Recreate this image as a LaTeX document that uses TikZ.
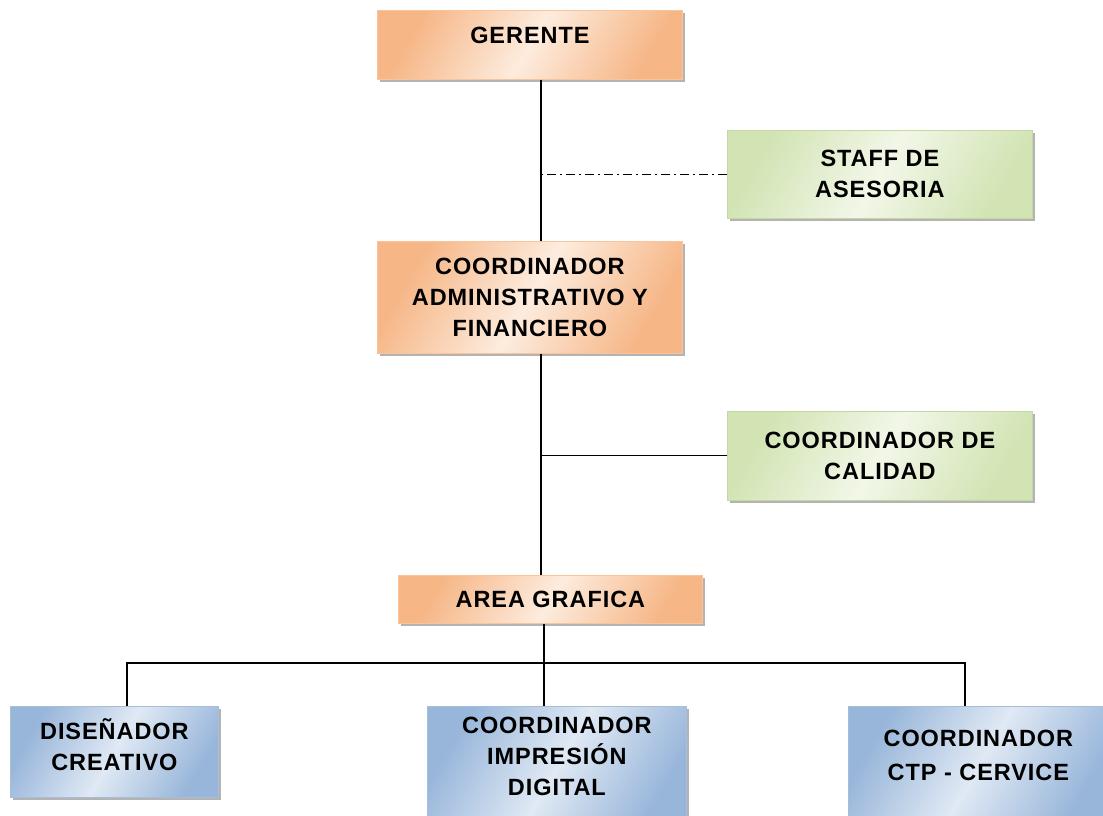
\documentclass[tikz,border=0pt]{standalone}
\usepackage{fontspec}
\setmainfont{Liberation Sans}[LetterSpace=4]
\usetikzlibrary{shadows}
\definecolor{orD}{RGB}{246,182,134}
\definecolor{orL}{RGB}{253,236,222}
\definecolor{orB}{RGB}{248,196,156}
\definecolor{grD}{RGB}{210,228,180}
\definecolor{grL}{RGB}{242,247,232}
\definecolor{grB}{RGB}{196,216,160}
\definecolor{blD}{RGB}{152,182,218}
\definecolor{blL}{RGB}{224,233,244}
\definecolor{blB}{RGB}{166,190,220}
\definecolor{shd}{RGB}{160,160,160}
\tikzset{
  box/.style={rectangle, anchor=north west, align=center, inner sep=0pt,
    font=\fontsize{23.5}{31}\selectfont\bfseries, text=black, line width=0.8pt,
    drop shadow={shadow xshift=3pt, shadow yshift=-3pt, fill=shd, opacity=0.8}},
  obox/.style={box, draw=orB, left color=orD, right color=orD, middle color=orL, shading angle=60},
  gbox/.style={box, draw=grB, left color=grD, right color=grD, middle color=grL, shading angle=60},
  bbox/.style={box, draw=blB, left color=blD, right color=blD, middle color=blL, shading angle=60},
  link/.style={draw=black, line width=1.1pt},
  staffline/.style={draw=black, line width=1.1pt, dash pattern=on 9pt off 4pt on 2pt off 4pt}
}
\begin{document}
\begin{tikzpicture}[x=1pt, y=-1pt]
\useasboundingbox (0,0) rectangle (1103,816);
\clip (0,0) rectangle (1103,816);
\fill[white] (0,0) rectangle (1103,816);
\coordinate (sp) at (541,0);
\coordinate (sq) at (544,0);
\coordinate (hb) at (0,663);
\coordinate (xl) at (127,0);
\coordinate (xr) at (965,0);

\node[obox, minimum width=305pt, minimum height=69pt, text depth=20pt] (ger) at (377,10) {GERENTE};
\node[gbox, minimum width=305pt, minimum height=88pt] (staff) at (727,130) {STAFF DE\\ASESORIA};
\node[obox, minimum width=305pt, minimum height=112pt] (adm) at (377,241) {COORDINADOR\\ADMINISTRATIVO Y\\FINANCIERO};
\node[gbox, minimum width=305pt, minimum height=89pt] (cal) at (727,411) {COORDINADOR DE\\CALIDAD};
\node[obox, minimum width=304pt, minimum height=48pt] (area) at (398,575) {AREA GRAFICA};
\node[bbox, minimum width=208pt, minimum height=91pt, text depth=14pt] (dis) at (10,706) {DISEÑADOR\\CREATIVO};
\node[bbox, minimum width=259pt, minimum height=120pt, text depth=20pt] (imp) at (427,706) {COORDINADOR\\IMPRESIÓN\\DIGITAL};
\node[bbox, minimum width=260pt, minimum height=120pt, text depth=22pt] (ctp) at (848,706) {COORDINADOR\\[3pt]CTP - CERVICE};

\draw[link] (ger.south -| sp) -- (adm.north -| sp);
\draw[staffline] (staff.west) -- (staff.west -| sp);
\draw[link] (adm.south -| sp) -- (area.north -| sp);
\draw[link] (cal.west) -- (cal.west -| sp);
\draw[link] (area.south -| sq) -- (hb -| sq);
\draw[link] (dis.north -| xl) -- (hb -| xl) -- (hb -| xr) -- (ctp.north -| xr);
\draw[link] (hb -| sq) -- (imp.north -| sq);
\end{tikzpicture}
\end{document}
